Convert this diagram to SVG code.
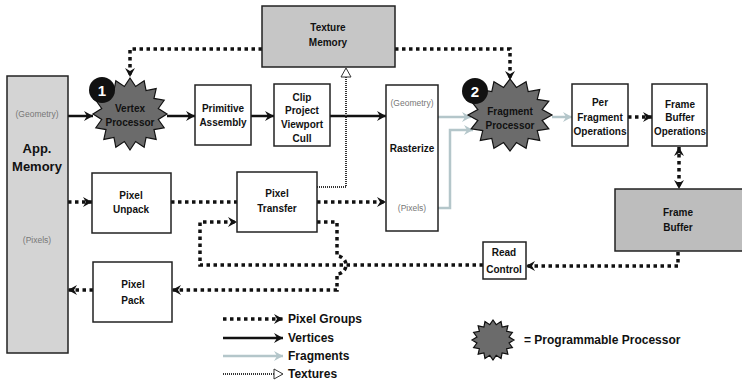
<svg xmlns="http://www.w3.org/2000/svg" xmlns:xlink="http://www.w3.org/1999/xlink" width="742" height="381" viewBox="0 0 742 381">
<style>
text{font-family:"Liberation Sans",Arial,sans-serif;font-weight:bold;font-size:10px;fill:#111;text-anchor:middle;dominant-baseline:central}
.box{fill:#fff;stroke:#222;stroke-width:1.5}
.gray{stroke:#222;stroke-width:1.5}
.small{font-size:8.5px;font-weight:normal;fill:#777}
.big{font-size:13px}
.leg{font-size:12px;text-anchor:start}
.pix{fill:none;stroke:#111;stroke-width:3.5;stroke-dasharray:3.5 3.5}
.vert{fill:none;stroke:#111;stroke-width:2.5}
.frag{fill:none;stroke:#b4c6ca;stroke-width:2.5}
.tex{fill:none;stroke:#333;stroke-width:2;stroke-dasharray:1 1}
.star{fill:#6b6b6b;stroke:#111;stroke-width:1.2}
</style>
<defs>
<polygon id="starShape" points="50,0 38.25,7.61 46.19,19.13 32.43,21.67 35.36,35.36 21.67,32.43 19.13,46.19 7.61,38.25 0,50 -7.61,38.25 -19.13,46.19 -21.67,32.43 -35.36,35.36 -32.43,21.67 -46.19,19.13 -38.25,7.61 -50,0 -38.25,-7.61 -46.19,-19.13 -32.43,-21.67 -35.36,-35.36 -21.67,-32.43 -19.13,-46.19 -7.61,-38.25 0,-50 7.61,-38.25 19.13,-46.19 21.67,-32.43 35.36,-35.36 32.43,-21.67 46.19,-19.13 38.25,-7.61" vector-effect="non-scaling-stroke"/>
<marker id="aBlk" markerUnits="userSpaceOnUse" markerWidth="12" markerHeight="12" refX="10" refY="6" orient="auto-start-reverse">
<path d="M1,1 L10,6 L1,11 L4,6 z" fill="#111"/>
</marker>
<marker id="aFrag" markerUnits="userSpaceOnUse" markerWidth="12" markerHeight="12" refX="10" refY="6" orient="auto">
<path d="M1,1 L10,6 L1,11 L4,6 z" fill="#b4c6ca"/>
</marker>
<marker id="aTex" markerUnits="userSpaceOnUse" markerWidth="12" markerHeight="12" refX="10" refY="6" orient="auto">
<path d="M1,1 L10,6 L1,11 z" fill="#fff" stroke="#333" stroke-width="1"/>
</marker>
</defs>

<g id="connectors">
<line class="vert" x1="68" y1="116" x2="93" y2="116" marker-end="url(#aBlk)"/>
<line class="vert" x1="167" y1="116" x2="195" y2="116" marker-end="url(#aBlk)"/>
<line class="vert" x1="251" y1="116" x2="274" y2="116" marker-end="url(#aBlk)"/>
<line class="vert" x1="330" y1="116" x2="386" y2="116" marker-end="url(#aBlk)"/>
<line class="frag" x1="438" y1="117" x2="471" y2="117" marker-end="url(#aFrag)"/>
<path class="frag" d="M438,208 H450 V130 H473" marker-end="url(#aFrag)"/>
<line class="frag" x1="552" y1="117" x2="572" y2="117" marker-end="url(#aFrag)"/>
<line class="pix" x1="628" y1="117" x2="652" y2="117" marker-end="url(#aBlk)"/>
<line class="pix" x1="679" y1="147" x2="679" y2="189" marker-start="url(#aBlk)" marker-end="url(#aBlk)"/>
<path class="pix" d="M678,252 V266 H526" marker-end="url(#aBlk)"/>
<path class="pix" d="M483,265 H200 V222 H237" marker-end="url(#aBlk)"/>
<path class="pix" d="M317,222 H337 V256 A9,9 0 0 1 337,274 V290 H172" marker-end="url(#aBlk)"/>
<line class="pix" x1="68" y1="202" x2="92" y2="202" marker-end="url(#aBlk)"/>
<line class="pix" x1="171" y1="202" x2="237" y2="202"/>
<line class="pix" x1="317" y1="202" x2="386" y2="202" marker-end="url(#aBlk)"/>
<line class="pix" x1="93" y1="290" x2="68" y2="290" marker-end="url(#aBlk)"/>
<path class="pix" d="M262,49 H130 V77" marker-end="url(#aBlk)"/>
<path class="pix" d="M395,49 H510 V80" marker-end="url(#aBlk)"/>
<path class="tex" d="M317,187 H346 V68" marker-end="url(#aTex)"/>
</g>

<g id="app-memory">
<rect class="gray" x="7" y="76" width="61" height="277" fill="#d4d4d4"/>
<text class="small" x="37" y="114">(Geometry)</text>
<text class="big" x="37" y="148">App.</text>
<text class="big" x="37" y="166">Memory</text>
<text class="small" x="37" y="240">(Pixels)</text>
</g>

<g id="vertex-processor">
<use xlink:href="#starShape" class="star" transform="translate(130,114) scale(0.74,0.72)"/>
<text x="130" y="108">Vertex</text>
<text x="130" y="122">Processor</text>
<circle cx="102" cy="90" r="13" fill="#111"/>
<text x="102" y="90" style="fill:#fff;font-size:15px">1</text>
</g>

<g id="primitive-assembly">
<rect class="box" x="195" y="85" width="56" height="60"/>
<text x="223" y="108">Primitive</text>
<text x="223" y="122">Assembly</text>
</g>

<g id="clip">
<rect class="box" x="274" y="84" width="56" height="62"/>
<text x="302" y="97">Clip</text>
<text x="302" y="110">Project</text>
<text x="302" y="124">Viewport</text>
<text x="302" y="138">Cull</text>
</g>

<g id="texture-memory">
<rect class="gray" x="262" y="6" width="133" height="61" fill="#c6c6c6"/>
<text x="328" y="27">Texture</text>
<text x="328" y="42">Memory</text>
</g>

<g id="rasterize">
<rect class="box" x="386" y="85" width="52" height="146"/>
<text class="small" x="412" y="103">(Geometry)</text>
<text x="412" y="148">Rasterize</text>
<text class="small" x="412" y="208">(Pixels)</text>
</g>

<g id="fragment-processor">
<use xlink:href="#starShape" class="star" transform="translate(510,115) scale(0.84,0.72)"/>
<text x="510" y="111">Fragment</text>
<text x="510" y="125">Processor</text>
<circle cx="475" cy="91" r="13" fill="#111"/>
<text x="475" y="91" style="fill:#fff;font-size:15px">2</text>
</g>

<g id="per-fragment-operations">
<rect class="box" x="572" y="84" width="56" height="62"/>
<text x="600" y="102">Per</text>
<text x="600" y="117">Fragment</text>
<text x="600" y="131" textLength="53" lengthAdjust="spacingAndGlyphs">Operations</text>
</g>

<g id="frame-buffer-operations">
<rect class="box" x="652" y="84" width="55" height="62"/>
<text x="680" y="104">Frame</text>
<text x="680" y="117">Buffer</text>
<text x="680" y="131" textLength="52" lengthAdjust="spacingAndGlyphs">Operations</text>
</g>

<g id="frame-buffer">
<rect class="gray" x="615" y="189" width="130" height="62" fill="#bdbdbd"/>
<text x="678" y="212">Frame</text>
<text x="678" y="227">Buffer</text>
</g>

<g id="read-control">
<rect class="box" x="483" y="242" width="43" height="37"/>
<text x="504" y="252">Read</text>
<text x="504" y="269">Control</text>
</g>

<g id="pixel-unpack">
<rect class="box" x="92" y="173" width="79" height="60"/>
<text x="131" y="195">Pixel</text>
<text x="131" y="209">Unpack</text>
</g>

<g id="pixel-transfer">
<rect class="box" x="237" y="172" width="80" height="60"/>
<text x="277" y="193">Pixel</text>
<text x="277" y="208">Transfer</text>
</g>

<g id="pixel-pack">
<rect class="box" x="93" y="262" width="79" height="60"/>
<text x="133" y="284">Pixel</text>
<text x="133" y="300">Pack</text>
</g>

<g id="legend">
<line class="pix" x1="223" y1="319" x2="283" y2="319" marker-end="url(#aBlk)"/>
<text class="leg" x="288" y="319">Pixel Groups</text>
<line class="vert" x1="223" y1="338" x2="283" y2="338" marker-end="url(#aBlk)"/>
<text class="leg" x="288" y="338">Vertices</text>
<line class="frag" x1="223" y1="356" x2="283" y2="356" marker-end="url(#aFrag)"/>
<text class="leg" x="288" y="356">Fragments</text>
<line class="tex" x1="223" y1="374" x2="283" y2="374" marker-end="url(#aTex)"/>
<text class="leg" x="288" y="374">Textures</text>
<use xlink:href="#starShape" class="star" transform="translate(493,340) scale(0.42,0.4)"/>
<text class="leg" x="524" y="340">= Programmable Processor</text>
</g>
</svg>
